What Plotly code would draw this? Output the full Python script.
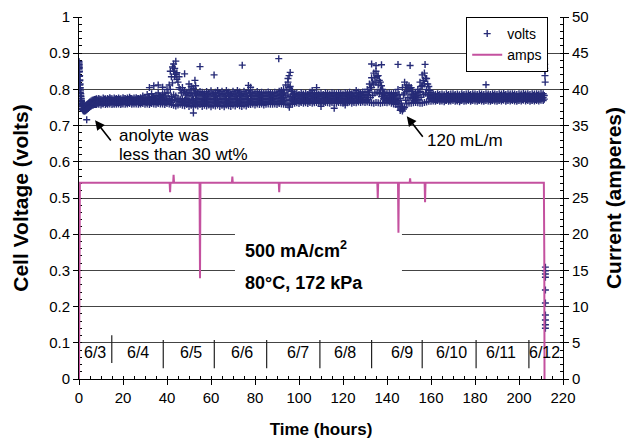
import plotly.graph_objects as go

NAVY = '#262B77'
PINK = '#C4519F'
FONT = 'Arial, "Liberation Sans", sans-serif'

# ---------------- volts (values in mV) ----------------
# start-up transient
t_start = [0, 0, 0, 0, 0.1, 0.2, 0.3, 0.4, 0.5, 0.6, 0.7, 0.8, 0.9, 1.0, 1.1, 1.2, 1.4,
           1.6, 1.8, 2.0, 2.3, 2.6, 3.0, 3.4, 3.8, 4.2, 4.6, 5.0, 5.5, 6.0, 6.5, 7.0, 7.5]
v_start_hi_mV = [877, 873, 869, 865, 860, 850, 838, 826, 815, 805, 796, 788, 781, 775, 770, 766, 761,
                 758, 756, 755, 754, 754, 755, 757, 759, 761, 764, 766, 768, 770, 771, 772, 773]
v_start_lo_mV = [868, 862, 858, 856, 848, 836, 824, 812, 801, 791, 782, 775, 768, 762, 757, 753, 748,
                 745, 743, 741, 740, 740, 741, 743, 745, 747, 750, 752, 754, 756, 757, 758, 758]

# hourly readings, hours 8 .. 211 (middle, upper and lower edge of the scatter band)
t_band = list(range(8, 212))
v_band_mid_mV = [
    767, 768, 766, 769, 767, 768, 770, 767, 769, 768,
    769, 767, 770, 768, 769, 771, 768, 769, 770, 768,
    769, 771, 769, 770, 768, 771, 770, 769, 772, 770,
    772, 770, 773, 775, 780, 785, 782, 776, 772, 774,
    771, 774, 772, 770, 773, 775, 771, 774, 772, 770,
    774, 772, 775, 771, 773, 776, 772, 774, 771, 775,
    773, 771, 774, 772, 776, 773, 771, 774, 772, 775,
    773, 774, 772, 775, 773, 774, 772, 773, 775, 774,
    773, 775, 774, 776, 777, 778, 782, 785, 781, 776,
    774, 775, 773, 776, 774, 775, 773, 776, 774, 775,
    776, 774, 775, 773, 776, 775, 774, 776, 775, 774,
    776, 775, 774, 776, 775, 777, 774, 776, 775, 777,
    776, 778, 777, 782, 792, 805, 815, 820, 812, 798,
    785, 776, 775, 777, 774, 776, 772, 770, 752, 752,
    790, 795, 795, 785, 776, 778, 782, 795, 810, 815,
    800, 786, 779, 777, 776, 778, 776, 777, 775, 778,
    776, 777, 778, 776, 777, 775, 778, 776, 777, 778,
    776, 778, 777, 776, 778, 777, 776, 778, 777, 776,
    778, 777, 776, 778, 777, 779, 776, 778, 777, 778,
    777, 776, 778, 777, 779, 777, 778, 776, 778, 777,
    778, 777, 779, 778]
v_band_hi_mV = [
    774, 775, 773, 776, 774, 775, 777, 774, 776, 775,
    776, 774, 777, 775, 776, 778, 775, 776, 777, 775,
    777, 782, 776, 786, 777, 788, 778, 784, 790, 781,
    786, 790, 800, 812, 835, 850, 842, 820, 800, 805,
    796, 792, 798, 790, 803, 796, 790, 794, 792, 788,
    794, 790, 796, 788, 792, 797, 790, 795, 789, 797,
    792, 788, 795, 790, 797, 793, 788, 795, 790, 797,
    790, 793, 789, 794, 790, 792, 789, 790, 793, 791,
    789, 792, 790, 795, 797, 800, 812, 820, 808, 795,
    788, 790, 786, 791, 787, 789, 786, 792, 788, 790,
    791, 787, 790, 786, 791, 789, 787, 791, 789, 788,
    791, 789, 787, 791, 789, 792, 788, 790, 789, 792,
    790, 793, 792, 800, 815, 832, 845, 850, 838, 820,
    800, 790, 789, 791, 788, 790, 790, 800, 775, 805,
    820, 812, 810, 805, 787, 790, 800, 820, 840, 845,
    830, 808, 791, 787, 786, 788, 786, 787, 785, 788,
    786, 787, 788, 786, 787, 785, 788, 786, 787, 788,
    786, 788, 787, 786, 788, 787, 786, 788, 787, 786,
    788, 787, 786, 788, 787, 789, 786, 788, 787, 788,
    787, 786, 788, 787, 789, 787, 788, 786, 788, 787,
    788, 787, 789, 788]
v_band_lo_mV = [
    758, 759, 757, 760, 758, 759, 760, 758, 759, 759,
    760, 758, 760, 759, 760, 761, 759, 760, 760, 759,
    760, 761, 759, 760, 758, 761, 760, 759, 761, 760,
    760, 758, 761, 760, 758, 756, 754, 757, 759, 756,
    755, 758, 753, 756, 752, 757, 754, 758, 753, 756,
    754, 757, 752, 756, 754, 757, 753, 756, 752, 757,
    755, 753, 757, 754, 758, 755, 753, 757, 754, 758,
    758, 760, 757, 760, 758, 760, 757, 759, 760, 759,
    759, 760, 758, 761, 760, 759, 758, 757, 760, 759,
    762, 763, 761, 764, 762, 763, 761, 764, 762, 763,
    764, 762, 763, 761, 764, 763, 762, 764, 763, 762,
    764, 763, 762, 764, 763, 765, 762, 764, 763, 765,
    764, 765, 764, 765, 764, 763, 762, 764, 763, 762,
    763, 764, 763, 765, 762, 760, 758, 752, 742, 740,
    750, 760, 762, 762, 763, 764, 763, 762, 762, 764,
    765, 767, 767, 768, 767, 769, 767, 768, 766, 769,
    767, 768, 769, 767, 768, 766, 769, 767, 768, 769,
    767, 769, 768, 767, 769, 768, 767, 769, 768, 767,
    769, 768, 767, 769, 768, 770, 767, 769, 768, 769,
    768, 767, 769, 768, 770, 768, 769, 767, 769, 768,
    769, 768, 770, 769]

# half-hour readings, hours 8.5 .. 211.5 (upper and lower part of the band)
t_band_half = [h + 0.5 for h in range(8, 212)]
v_band_uq_mV = [
    771, 772, 770, 773, 771, 772, 774, 771, 773, 772,
    773, 771, 774, 772, 773, 775, 772, 773, 774, 772,
    773, 776, 773, 778, 773, 780, 775, 776, 782, 775,
    779, 782, 790, 800, 818, 835, 828, 805, 790, 792,
    785, 784, 788, 782, 790, 786, 782, 786, 784, 780,
    786, 782, 787, 781, 784, 788, 782, 786, 781, 787,
    784, 780, 786, 782, 788, 784, 780, 786, 782, 788,
    782, 784, 781, 785, 782, 784, 781, 782, 785, 783,
    781, 784, 782, 786, 788, 790, 798, 805, 795, 786,
    781, 783, 780, 784, 781, 782, 780, 784, 781, 783,
    784, 781, 783, 780, 784, 782, 781, 784, 782, 781,
    784, 782, 781, 784, 782, 785, 781, 783, 782, 785,
    783, 786, 785, 792, 805, 820, 832, 836, 825, 810,
    792, 783, 782, 784, 781, 783, 782, 786, 762, 785,
    806, 804, 803, 795, 782, 784, 792, 808, 825, 830,
    815, 797, 784, 782, 781, 783, 781, 782, 780, 783,
    781, 782, 783, 781, 782, 780, 783, 781, 782, 783,
    781, 783, 782, 781, 783, 782, 781, 783, 782, 781,
    783, 782, 781, 783, 782, 784, 781, 783, 782, 783,
    782, 781, 783, 782, 784, 782, 783, 781, 783, 782,
    783, 782, 784, 783]
v_band_lq_mV = [
    762, 763, 761, 764, 762, 763, 764, 762, 763, 763,
    764, 762, 765, 763, 764, 765, 763, 764, 765, 763,
    764, 765, 764, 765, 763, 766, 765, 764, 766, 765,
    766, 764, 767, 768, 770, 772, 768, 766, 765, 765,
    763, 766, 762, 763, 762, 766, 762, 766, 762, 763,
    764, 765, 763, 763, 764, 766, 762, 765, 762, 766,
    764, 762, 765, 763, 767, 764, 762, 765, 763, 766,
    765, 767, 764, 767, 765, 767, 764, 766, 767, 766,
    766, 767, 765, 768, 768, 769, 770, 771, 770, 767,
    768, 769, 767, 770, 768, 769, 767, 770, 768, 769,
    770, 768, 769, 767, 770, 769, 768, 770, 769, 768,
    770, 769, 768, 770, 769, 771, 768, 770, 769, 771,
    770, 771, 770, 773, 778, 784, 790, 792, 788, 780,
    774, 770, 769, 771, 768, 768, 765, 761, 746, 746,
    770, 777, 778, 774, 769, 771, 772, 778, 786, 790,
    782, 775, 772, 772, 771, 773, 771, 772, 770, 773,
    771, 772, 773, 771, 772, 770, 773, 771, 772, 773,
    771, 773, 772, 771, 773, 772, 771, 773, 772, 771,
    773, 772, 771, 773, 772, 774, 771, 773, 772, 773,
    772, 771, 773, 772, 774, 772, 773, 771, 773, 772,
    773, 772, 774, 773]

# isolated readings outside the band
t_out = [3.5, 32, 34, 36, 38, 41.5, 42.5, 43, 43.5, 44, 44.5, 45.5, 48, 50, 51, 52, 52.7, 53,
         55, 61.4, 74.2, 77, 78, 90.8, 95, 95.5, 95.6, 96, 106, 108, 110, 116, 121, 126,
         133, 135, 137.5, 145, 150.5, 157.3, 185]
v_out_mV = [716, 805, 810, 812, 806, 850, 862, 870, 858, 878, 846, 835, 843, 815, 808, 735, 825, 810,
            863, 840, 867, 811, 806, 885, 830, 838, 751, 847, 797, 805, 753, 748, 757, 797,
            870, 866, 868, 869, 866, 869, 813]

# shutdown
t_end = [211.4, 211.5, 211.5, 211.6, 211.6, 211.7, 211.7, 211.8, 211.8, 211.9,
         212.0, 212.0, 212.0, 212.0, 212.0, 212.0, 212.0, 212.0, 212.0, 212.0]
v_end_mV = [871, 876, 866, 873, 862, 869, 858, 852, 838, 820,
            309, 299, 290, 281, 246, 210, 177, 163, 150, 140]

# ---------------- amps ----------------
t_amps = [0, 0.4, 41.2, 41.4, 41.6, 42.8, 43.0, 43.2, 54.8, 55.0, 55.2, 69.5, 69.7, 69.9,
          90.8, 91.0, 91.2, 135.6, 135.8, 136.0, 145.0, 145.2, 145.4, 150.3, 150.5, 150.7,
          157.1, 157.3, 157.5, 211.3, 211.5, 211.6]
amps = [0, 27.1, 27.1, 25.8, 27.1, 27.1, 28.2, 27.1, 27.1, 13.9, 27.1, 27.1, 27.95, 27.1,
        27.1, 25.8, 27.1, 27.1, 25.0, 27.1, 27.1, 20.2, 27.1, 27.1, 27.7, 27.1,
        27.1, 24.4, 27.1, 27.1, 17.0, 0]

# ---------------- day labels ----------------
date_labels = ['6/3', '6/4', '6/5', '6/6', '6/7', '6/8', '6/9', '6/10', '6/11', '6/12']
date_centers_h = [7.3, 27, 50.7, 74, 99.7, 121, 146.7, 169.4, 192, 211.5]
day_breaks_h = [14.9, 38.3, 61.5, 85.3, 109.5, 133, 156, 180.5, 204.5]

# ---------------- assemble ----------------
t_volts = (t_start + t_start + t_band + t_band + t_band + t_band_half + t_band_half
           + t_out + t_end)
v_volts = [m / 1000 for m in (v_start_hi_mV + v_start_lo_mV + v_band_mid_mV + v_band_hi_mV
                              + v_band_lo_mV + v_band_uq_mV + v_band_lq_mV + v_out_mV + v_end_mV)]

fig = go.Figure()
fig.add_trace(go.Scatter(
    x=t_volts, y=v_volts, mode='markers', name='volts',
    marker=dict(symbol='cross-thin', size=5, color=NAVY, line=dict(width=1.4, color=NAVY)),
    yaxis='y'))
fig.add_trace(go.Scatter(
    x=t_amps, y=amps, mode='lines', name='amps',
    line=dict(color=PINK, width=2), yaxis='y2'))

shapes = [dict(type='rect', xref='x', yref='y', x0=70.9, x1=146.8, y0=0.22, y1=0.41,
               fillcolor='white', line=dict(width=0), layer='between')]
for i, h in enumerate(day_breaks_h):
    y0, y1 = (0.044, 0.121) if i == 0 else (0.03, 0.108)
    shapes.append(dict(type='line', xref='x', yref='y', x0=h, x1=h, y0=y0, y1=y1,
                       line=dict(color='#222', width=1.2), layer='above'))

annotations = []
for lab, c in zip(date_labels, date_centers_h):
    annotations.append(dict(x=c, y=0.072, xref='x', yref='y', text=lab, showarrow=False,
                            font=dict(size=16, color='black', family=FONT)))

annotations += [
    dict(x=17.3, y=0.673, xref='x', yref='y', text='anolyte was', showarrow=False,
         xanchor='left', font=dict(size=17, color='black', family=FONT)),
    dict(x=17.3, y=0.621, xref='x', yref='y', text='less than 30 wt%', showarrow=False,
         xanchor='left', font=dict(size=17, color='black', family=FONT)),
    dict(x=7.3, y=0.7145, xref='x', yref='y', ax=15, ay=0.655, axref='x', ayref='y',
         text='', showarrow=True, arrowhead=2, arrowsize=1.2, arrowwidth=1.6,
         arrowcolor='black', standoff=0),
    dict(x=157.3, y=0.659, xref='x', yref='y', text='120 mL/m', showarrow=False,
         xanchor='left', font=dict(size=17, color='black', family=FONT)),
    dict(x=149, y=0.7255, xref='x', yref='y', ax=156.8, ay=0.665, axref='x', ayref='y',
         text='', showarrow=True, arrowhead=2, arrowsize=1.2, arrowwidth=1.6,
         arrowcolor='black', standoff=0),
    dict(x=74.5, y=0.359, xref='x', yref='y', text='<b>500 mA/cm<sup>2</sup></b>',
         showarrow=False, xanchor='left', font=dict(size=18, color='black', family=FONT)),
    dict(x=74.5, y=0.266, xref='x', yref='y', text='<b>80°C, 172 kPa</b>',
         showarrow=False, xanchor='left', font=dict(size=18, color='black', family=FONT)),
]

fig.update_layout(
    width=635, height=447,
    margin=dict(l=79, r=72, t=17, b=68, autoexpand=False),
    paper_bgcolor='white', plot_bgcolor='white',
    font=dict(family=FONT, size=15, color='black'),
    showlegend=True,
    legend=dict(x=0.80, y=1.0, xanchor='left', yanchor='top',
                bordercolor='black', borderwidth=1, bgcolor='white',
                font=dict(size=14, family=FONT), tracegroupgap=0, itemwidth=30),
    xaxis=dict(range=[0, 220], dtick=20, tick0=0, showgrid=False, zeroline=False,
               automargin=False, layer='below traces',
               showline=True, linecolor='black', linewidth=1,
               ticks='outside', ticklen=5, tickcolor='black',
               minor=dict(dtick=5, ticks='inside', ticklen=3, tickcolor='black'),
               title=dict(text='<b>Time (hours)</b>', font=dict(size=17, family=FONT), standoff=18),
               tickfont=dict(size=15)),
    yaxis=dict(range=[0, 1], dtick=0.1, tick0=0, showgrid=True, gridcolor='#444', gridwidth=1,
               automargin=False, layer='below traces',
               zeroline=False, showline=True, linecolor='black', linewidth=1,
               ticks='outside', ticklen=5, tickcolor='black',
               minor=dict(dtick=0.02, ticks='inside', ticklen=3, tickcolor='black', showgrid=False),
               title=dict(text='<b>Cell Voltage (volts)</b>', font=dict(size=21, family=FONT), standoff=14),
               tickfont=dict(size=15)),
    yaxis2=dict(range=[0, 50], dtick=5, tick0=0, overlaying='y', side='right', showgrid=False,
                automargin=False,
                zeroline=False, showline=True, linecolor='black', linewidth=1,
                ticks='outside', ticklen=5, tickcolor='black',
                minor=dict(dtick=1, ticks='inside', ticklen=3, tickcolor='black'),
                title=dict(text='<b>Current (amperes)</b>', font=dict(size=21, family=FONT), standoff=18),
                tickfont=dict(size=15)),
    shapes=shapes,
    annotations=annotations,
)

fig.write_html('out.html', config={'displayModeBar': False},
               post_script="document.body.style.margin='0px';")
